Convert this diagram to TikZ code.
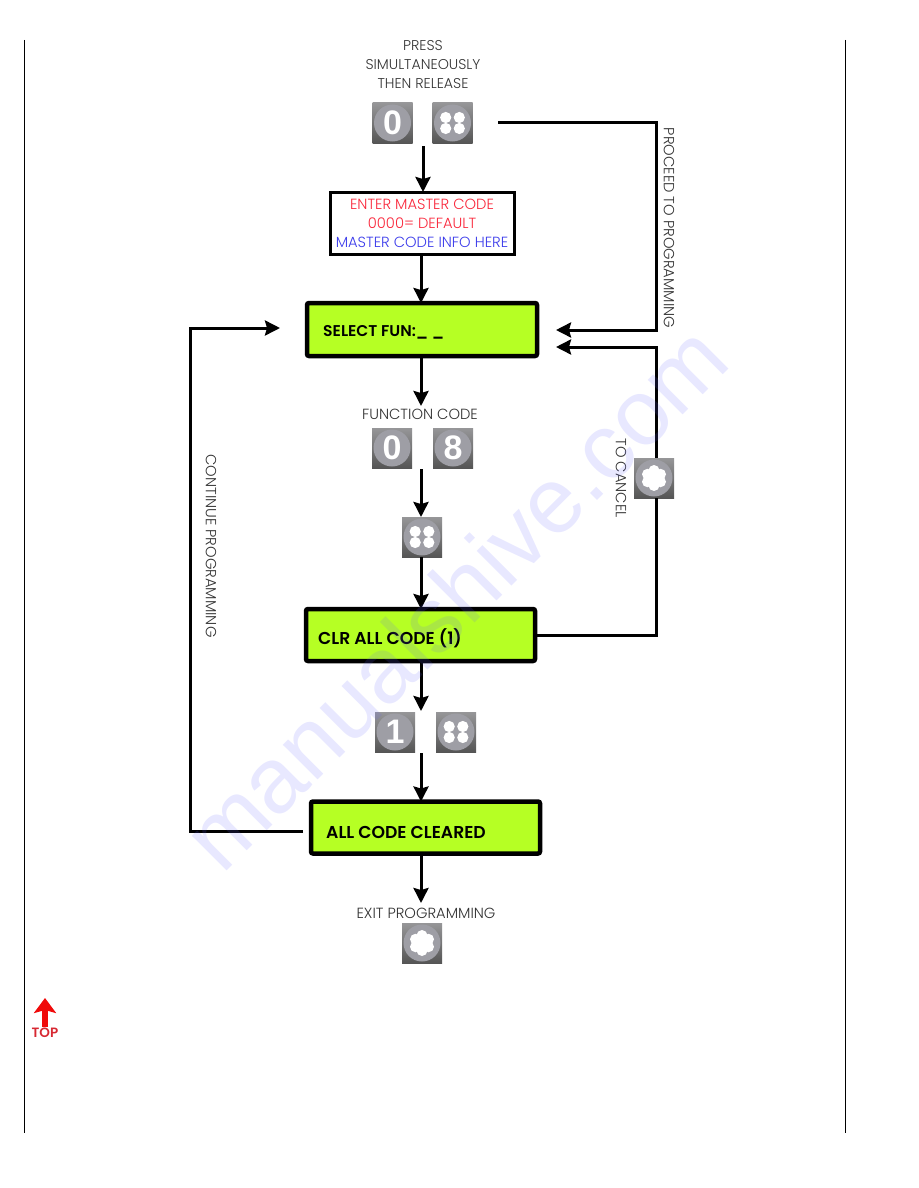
\documentclass[tikz,border=0pt]{standalone}
\usepackage{fontspec}
\setmainfont{Poppins}[UprightFont=* Light,BoldFont=* SemiBold]
\newfontfamily\keyfont{Liberation Sans}
\newfontfamily\markfont{Liberation Sans}
\usepackage{xcolor}
\usetikzlibrary{arrows.meta,positioning,calc}
\definecolor{lcdgreen}{RGB}{182,255,36}
\definecolor{keytop}{RGB}{150,150,152}
\definecolor{keybot}{RGB}{85,85,85}
\definecolor{keyring}{RGB}{158,158,165}
\definecolor{labelgray}{RGB}{50,50,50}
\definecolor{msgred}{RGB}{250,40,60}
\definecolor{msgblue}{RGB}{60,60,235}
\definecolor{topred}{RGB}{240,10,10}
\definecolor{toptext}{RGB}{215,40,50}
\definecolor{markblue}{RGB}{100,100,255}

\begin{document}
\begin{tikzpicture}[
    x=1pt, y=-1pt,
    lcd/.style={rectangle, rounded corners=2pt, draw=black, line width=4.5pt, fill=lcdgreen,
        minimum width=229pt, minimum height=52pt, outer sep=0pt, inner sep=0pt},
    lcdtext/.style={anchor=west, inner sep=0pt, font=\fontsize{17.2}{18}\selectfont\bfseries},
    msgbox/.style={rectangle, draw=black, line width=3pt, fill=white, minimum width=184pt,
        minimum height=62pt, inner sep=0pt, outer sep=0pt, align=center,
        font=\fontsize{14.7}{19}\selectfont},
    keycap/.style={rectangle, top color=keytop, bottom color=keybot, minimum size=40pt,
        inner sep=0pt, outer sep=0pt, text=white, font=\fontsize{34}{34}\keyfont\bfseries,
        path picture={\fill[keyring] (path picture bounding box.center) circle (18.5pt); #1}},
    keycap/.default={},
    hash/.style={keycap={
        \foreach \dx in {-1,1} \foreach \dy in {-1,1}
            \fill[white] ($(path picture bounding box.center)+(\dx*6.8,\dy*5.5)$) circle (5.6pt);
        \fill[keyring] ($(path picture bounding box.center)+(-0.9,-13)$) rectangle ++(1.8,26);}},
    star/.style={keycap={
        \foreach \ang in {30,90,...,330}
            \fill[white] ($(path picture bounding box.center)+(\ang:7.5)$) circle (5.5pt);
        \fill[white] (path picture bounding box.center) circle (8pt);}},
    caption/.style={text=labelgray, inner sep=0pt, align=center,
        font=\fontsize{14.7}{19}\selectfont},
    arr/.style={-{Stealth[length=15pt,width=15pt,inset=2pt]}, line width=3pt},
    wire/.style={line width=3pt}
]
\useasboundingbox (0,0) rectangle (918,1188);
% page rules
\coordinate (ruleLtop) at (24,40);
\coordinate (ruleLbot) at (24,1133);
\coordinate (ruleRtop) at (845,40);
\coordinate (ruleRbot) at (845,1133);
\draw[line width=1pt] (ruleLtop) -- (ruleLbot);
\draw[line width=1pt] (ruleRtop) -- (ruleRbot);

\node[caption, font=\fontsize{14.2}{19}\selectfont] (press) at (423,65) {PRESS\\SIMULTANEOUSLY\\THEN RELEASE};
\node[keycap] (keyzero) at (392.5,123) {0};
\node[hash, right=20pt of keyzero] (keyhash) {};

\node[msgbox] (mcode) at (422,223) {\textcolor{msgred}{ENTER MASTER CODE}\\\textcolor{msgred}{0000= DEFAULT}\\\textcolor{msgblue}{MASTER CODE INFO HERE}};
\node[lcd, minimum width=230pt, minimum height=53pt, anchor=west] (select) at (307,329.5) {};
\node[lcdtext, font=\fontsize{15.6}{18}\selectfont\bfseries] (selecttxt) at (323,332) {SELECT FUN:\_ \_};

\node[caption] (fcode) at (420,414) {FUNCTION CODE};
\node[keycap] (fzero) at (392,448) {0};
\node[keycap, right=21pt of fzero] (feight) {8};
\node[hash] (fhash) at (422,537) {};

\node[lcd, anchor=west] (clr) at (306,635) {};
\node[lcdtext] (clrtxt) at (318,638) {CLR ALL CODE (1)};
\node[keycap] (cleanone) at (395,732) {1};
\node[hash, right=21pt of cleanone] (cleanhash) {};
\node[lcd, anchor=west] (cleared) at (311,827.5) {};
\node[lcdtext] (clearedtxt) at (326,832) {ALL CODE CLEARED};

\node[caption] (exit) at (426,913) {EXIT PROGRAMMING};
\node[star] (exitkey) at (422,943) {};

\node[star] (cancelkey) at (654,478) {};
\node[caption, rotate=-90] (cancel) at (621,478) {TO CANCEL};
\node[caption, rotate=-90] (proceed) at (669,228) {PROCEED TO PROGRAMMING};
\node[caption, rotate=-90] (continue) at (211,546) {CONTINUE PROGRAMMING};

% free ends of the arrows
\coordinate (pressdown) at (423,146);
\coordinate (proceedfrom) at (498,123);
\coordinate (proceedin) at (556,330);
\coordinate (cancelin) at (556,347);
\coordinate (loopin) at (280,328);
\coordinate (loopfrom) at (303,831);
\coordinate (fkeysdown) at (421,469);
\coordinate (cleandown) at (421,753);
\coordinate (selectdown) at (421,406);
\coordinate (clrdown) at (421,711);
\coordinate (exitdown) at (421,903);

\draw[arr] (pressdown) -- (pressdown |- mcode.north);
\draw[arr] (mcode.south -| selectdown) -- (select.north -| selectdown);
\draw[arr] (select.south -| selectdown) -- (selectdown);
\draw[arr] (fkeysdown) -- (fkeysdown |- fhash.north);
\draw[arr] (fhash.south -| fkeysdown) -- (clr.north -| fkeysdown);
\draw[arr] (clr.south -| clrdown) -- (clrdown);
\draw[arr] (cleandown) -- (cleared.north -| cleandown);
\draw[arr] (cleared.south -| exitdown) -- (exitdown);

% feedback wires
\draw[arr] (proceedfrom) -| (656,330) -- (proceedin);
\draw[wire] (clr.east) -| ($(cancelkey.south)+(2,0)$);
\draw[arr] ($(cancelkey.north)+(2,0)$) |- (cancelin);
\draw[arr] (loopfrom) -| (190,328) -- (loopin);

% back to top
\coordinate (toptail) at (45,1027);
\coordinate (tophead) at (45,998);
\draw[-{Stealth[length=15pt,width=22pt,inset=3pt]}, topred, line width=6pt] (toptail) -- (tophead);
\node[inner sep=0pt, text=toptext, font=\fontsize{13.5}{14}\selectfont\bfseries] (top) at (45,1033) {TOP};

% faint mark over the page
\node[rotate=45, anchor=base west, inner sep=0pt, text=markblue, opacity=0.15,
    font=\fontsize{93}{93}\markfont] (watermark) at (222,876) {manualshive.com};
\end{tikzpicture}
\end{document}
